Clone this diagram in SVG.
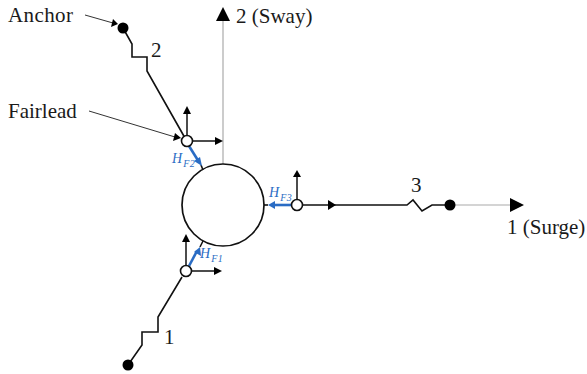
<svg xmlns="http://www.w3.org/2000/svg" width="587" height="374" viewBox="0 0 587 374">
<style>
text{font-family:"Liberation Serif",serif;fill:#1a1a1a}
.t{font-size:21px}
.b{fill:#2a6cc4;font-style:italic;font-size:14px}
.s{font-size:10px;letter-spacing:.6px}
.l{fill:none;stroke:#111;stroke-width:1.6;stroke-linejoin:miter}
.a{fill:none;stroke:#111;stroke-width:1.5}
.th{fill:none;stroke:#333;stroke-width:1}
.g{fill:none;stroke:#aaa;stroke-width:1.2}
.bl{fill:none;stroke:#2a6cc4;stroke-width:2.6}
.fl{fill:#fff;stroke:#111;stroke-width:1.6}
.dot{fill:#000}
.ah{fill:#000}
.bh{fill:#2a6cc4}
</style>
<rect width="587" height="374" fill="#fff"/>
<g id="connectors">
<path class="g" d="M223 164V20"/>
<path class="g" d="M450 205H511"/>
<path class="ah" d="M216 21L230 21L223 7Z"/>
<path class="ah" d="M510 198L510 212L524 205Z"/>
<path class="th" d="M85 15L113 23"/>
<path class="ah" d="M118 24L111 27L113 19Z"/>
<path class="th" d="M89 111L175 137"/>
<path class="ah" d="M181 138L173 141L175 133Z"/>
<path class="l" d="M123 28L132 44V57H147V71L185 138"/>
<path class="l" d="M182 277L158 317V332H142V345L128 365"/>
<path class="l" d="M297 205H407L413 200L422 211L432 205H450"/>
<path class="ah" d="M328 200L328 210L336 205Z"/>
<path class="a" d="M187 141V112"/>
<path class="ah" d="M183 114H191L187 106Z"/>
<path class="a" d="M187 141H216"/>
<path class="ah" d="M215 137V145L223 141Z"/>
<path class="a" d="M186 271V240"/>
<path class="ah" d="M182 242H190L186 234Z"/>
<path class="a" d="M186 271H215"/>
<path class="ah" d="M214 267V275L222 271Z"/>
<path class="a" d="M297 205V175"/>
<path class="ah" d="M293 177H301L297 170Z"/>
<path class="l" d="M201 165L203 170"/>
<path class="bl" d="M189 146L199 162"/>
<path class="bh" d="M202 166L194 161L200 157Z"/>
<path class="l" d="M200 247L203 241"/>
<path class="bl" d="M189 266L197 251"/>
<path class="bh" d="M200 247L201 256L194 252Z"/>
<path class="l" d="M264 205H268"/>
<path class="bl" d="M291 205H274"/>
<path class="bh" d="M268 205L275 201V209Z"/>
</g>
<g id="platform"><circle cx="223" cy="205" r="41" fill="none" stroke="#111" stroke-width="1.7"/></g>
<g id="fairlead-1"><circle class="fl" cx="186" cy="271" r="5.5"/></g>
<g id="fairlead-2"><circle class="fl" cx="187" cy="141" r="5.5"/></g>
<g id="fairlead-3"><circle class="fl" cx="297" cy="205" r="5.5"/></g>
<g id="anchor-1"><circle class="dot" cx="128" cy="365" r="5.5"/></g>
<g id="anchor-2"><circle class="dot" cx="123" cy="28" r="5.5"/></g>
<g id="anchor-3"><circle class="dot" cx="450" cy="205" r="5.5"/></g>
<g id="labels">
<text class="t" x="8" y="22" textLength="65" lengthAdjust="spacing">Anchor</text>
<text class="t" x="8" y="118">Fairlead</text>
<text class="t" x="236" y="23">2 (Sway)</text>
<text class="t" x="507" y="234">1 (Surge)</text>
<text class="t" x="151" y="57">2</text>
<text class="t" x="164" y="344">1</text>
<text class="t" x="411" y="192">3</text>
<text class="b" x="172" y="163">H<tspan class="s" dx="1" dy="4">F2</tspan></text>
<text class="b" x="200" y="258">H<tspan class="s" dx="1" dy="4">F1</tspan></text>
<text class="b" x="269" y="197">H<tspan class="s" dx="1" dy="4">F3</tspan></text>
</g>
</svg>
